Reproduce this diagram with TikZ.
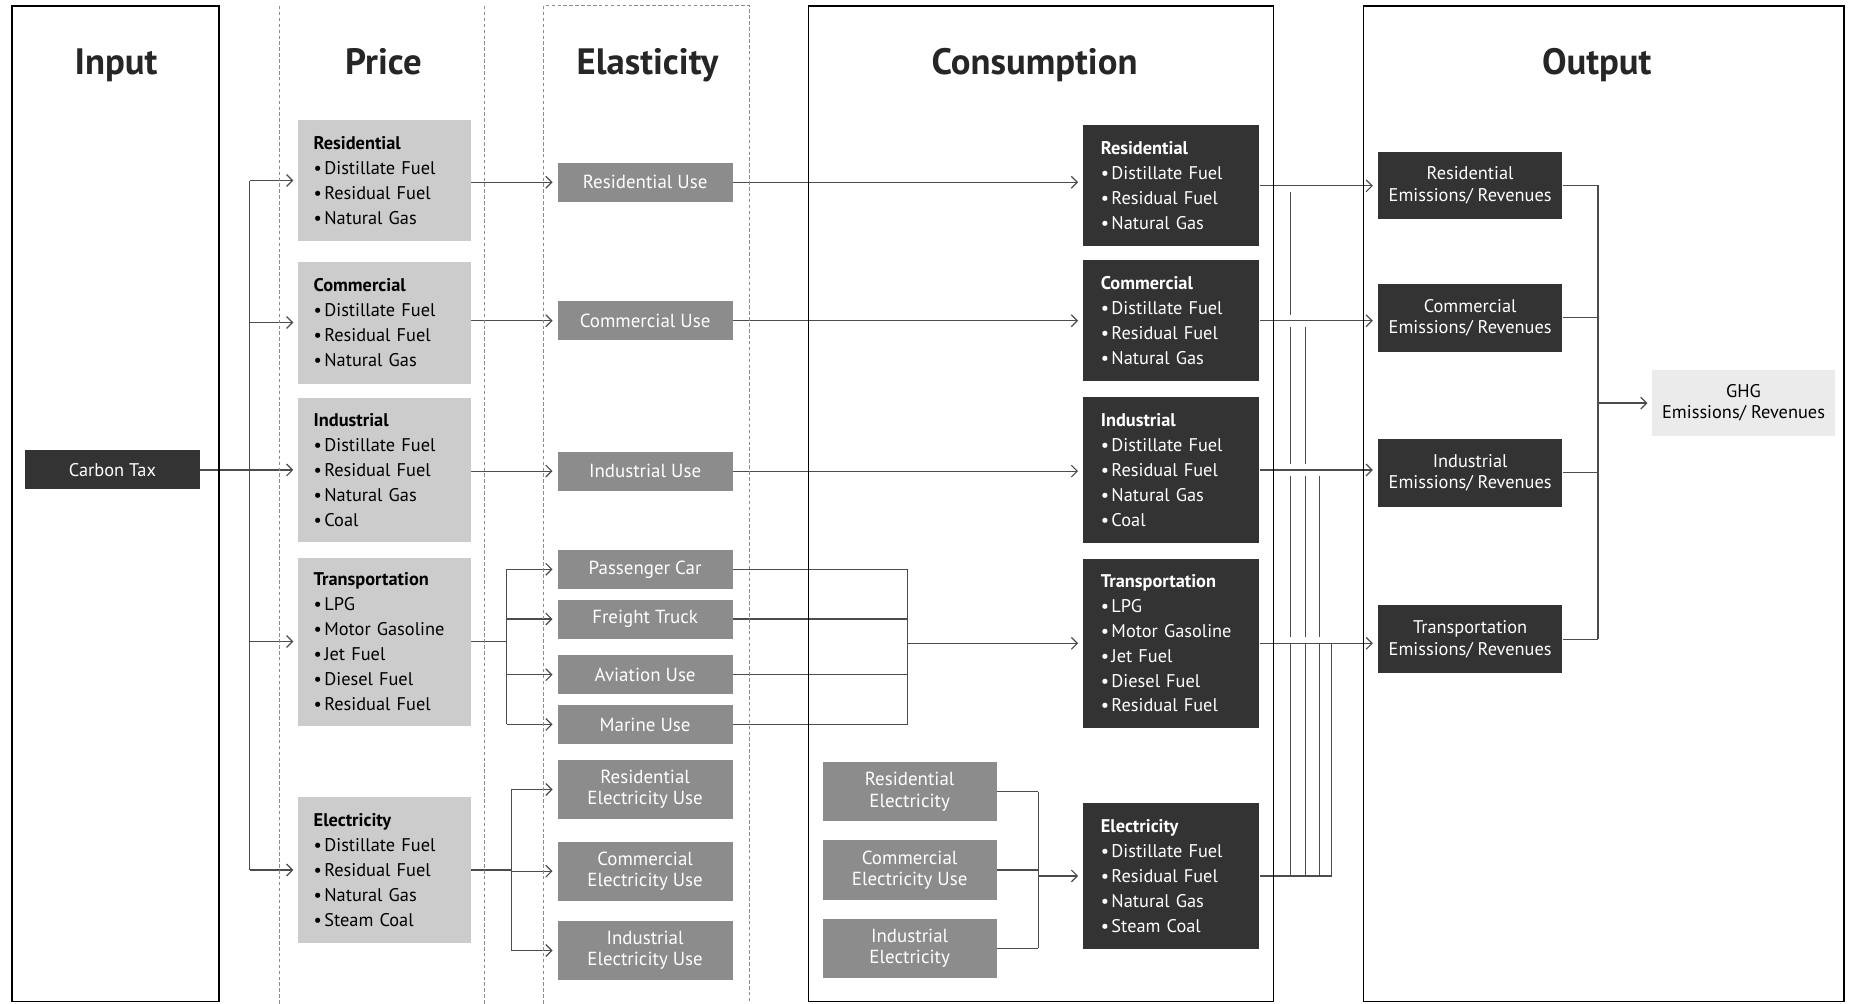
\documentclass[tikz,border=0pt]{standalone}
\usepackage{fontspec}
\setmainfont{PT Sans}
\usetikzlibrary{arrows.meta}

\begin{document}
\begin{tikzpicture}[x=1pt,y=-1pt]
	\tikzstyle{frame}=[draw=black,line width=1.4pt]
	\tikzstyle{dframe}=[draw=black!45,line width=0.8pt,dash pattern=on 3pt off 2pt]
	\tikzstyle{title}=[anchor=base,font=\fontsize{31}{36}\selectfont\bfseries,text=black!85]
	\tikzstyle{price}=[fill=black!20,text width=120pt,align=left,inner xsep=13pt,inner ysep=0pt,font=\fontsize{15.5}{21}\selectfont]
	\tikzstyle{elas}=[fill=black!45,text=white,align=center,minimum width=148pt,minimum height=33pt,inner sep=0pt,font=\fontsize{16}{18}\selectfont]
	\tikzstyle{cons}=[fill=black!80,text=white,text width=119pt,align=left,inner xsep=15pt,inner ysep=0pt,font=\fontsize{15.5}{21}\selectfont]
	\tikzstyle{outp}=[fill=black!80,text=white,align=center,minimum width=156pt,minimum height=57pt,inner sep=0pt,font=\fontsize{15.5}{18}\selectfont]
	\tikzstyle{line}=[draw=black!70,line width=1pt]
	\tikzstyle{arr}=[line,-{Straight Barb[length=5pt,width=10pt]},shorten >=4pt]
	\tikzstyle{gap}=[preaction={draw=white,-,line width=10pt}]
	\useasboundingbox[fill=white] (0,0) rectangle (1568,848);
	% column titles
	\node[title] (t_in) at (98,63) {Input};
	\node[title] (t_pr) at (324,63) {Price};
	\node[title] (t_el) at (547,63) {Elasticity};
	\node[title] (t_co) at (874,63) {Consumption};
	\node[title] (t_ou) at (1349,63) {Output};
	% input
	\node[outp,minimum width=148pt,minimum height=33pt] (tax) at (95,397) {Carbon Tax};
	% price
	\node[price,minimum height=103pt] (p_res) at (325,152.5) {\textbf{Residential}\\\textbullet\kern2pt Distillate Fuel\\\textbullet\kern2pt Residual Fuel\\\textbullet\kern2pt Natural Gas};
	\node[price,minimum height=103pt] (p_com) at (325,272.5) {\textbf{Commercial}\\\textbullet\kern2pt Distillate Fuel\\\textbullet\kern2pt Residual Fuel\\\textbullet\kern2pt Natural Gas};
	\node[price,minimum height=122pt] (p_ind) at (325,397) {\textbf{Industrial}\\\textbullet\kern2pt Distillate Fuel\\\textbullet\kern2pt Residual Fuel\\\textbullet\kern2pt Natural Gas\\\textbullet\kern2pt Coal};
	\node[price,minimum height=142pt] (p_tra) at (325,542) {\textbf{Transportation}\\\textbullet\kern2pt LPG\\\textbullet\kern2pt Motor Gasoline\\\textbullet\kern2pt Jet Fuel\\\textbullet\kern2pt Diesel Fuel\\\textbullet\kern2pt Residual Fuel};
	\node[price,minimum height=124pt] (p_ele) at (325,735) {\textbf{Electricity}\\\textbullet\kern2pt Distillate Fuel\\\textbullet\kern2pt Residual Fuel\\\textbullet\kern2pt Natural Gas\\\textbullet\kern2pt Steam Coal};
	% elasticity
	\node[elas] (e_res) at (545,154) {Residential Use};
	\node[elas] (e_com) at (545,271) {Commercial Use};
	\node[elas] (e_ind) at (545,398) {Industrial Use};
	\node[elas] (e_car) at (545,481) {Passenger Car};
	\node[elas] (e_fre) at (545,523) {Freight Truck};
	\node[elas] (e_avi) at (545,570) {Aviation Use};
	\node[elas] (e_mar) at (545,612) {Marine Use};
	\node[elas,minimum height=50pt] (e_rel) at (545,667) {Residential\\Electricity Use};
	\node[elas,minimum height=50pt] (e_cel) at (545,736) {Commercial\\Electricity Use};
	\node[elas,minimum height=50pt] (e_iel) at (545,803) {Industrial\\Electricity Use};
	% consumption
	\node[elas,minimum width=147pt,minimum height=50pt] (k_res) at (768.5,669) {Residential\\Electricity};
	\node[elas,minimum width=147pt,minimum height=50pt] (k_com) at (768.5,735) {Commercial\\Electricity Use};
	\node[elas,minimum width=147pt,minimum height=50pt] (k_ind) at (768.5,801) {Industrial\\Electricity};
	\node[cons,minimum height=102pt] (c_res) at (989.5,157) {\textbf{Residential}\\\textbullet\kern2pt Distillate Fuel\\\textbullet\kern2pt Residual Fuel\\\textbullet\kern2pt Natural Gas};
	\node[cons,minimum height=102pt] (c_com) at (989.5,271) {\textbf{Commercial}\\\textbullet\kern2pt Distillate Fuel\\\textbullet\kern2pt Residual Fuel\\\textbullet\kern2pt Natural Gas};
	\node[cons,minimum height=124pt] (c_ind) at (989.5,397) {\textbf{Industrial}\\\textbullet\kern2pt Distillate Fuel\\\textbullet\kern2pt Residual Fuel\\\textbullet\kern2pt Natural Gas\\\textbullet\kern2pt Coal};
	\node[cons,minimum height=143pt] (c_tra) at (989.5,543.5) {\textbf{Transportation}\\\textbullet\kern2pt LPG\\\textbullet\kern2pt Motor Gasoline\\\textbullet\kern2pt Jet Fuel\\\textbullet\kern2pt Diesel Fuel\\\textbullet\kern2pt Residual Fuel};
	\node[cons,minimum height=124pt] (c_ele) at (989.5,740) {\textbf{Electricity}\\\textbullet\kern2pt Distillate Fuel\\\textbullet\kern2pt Residual Fuel\\\textbullet\kern2pt Natural Gas\\\textbullet\kern2pt Steam Coal};
	% output
	\node[outp] (o_res) at (1242,156.5) {Residential\\Emissions/ Revenues};
	\node[outp] (o_com) at (1242,268.5) {Commercial\\Emissions/ Revenues};
	\node[outp] (o_ind) at (1242,399.5) {Industrial\\Emissions/ Revenues};
	\node[outp] (o_tra) at (1242,540) {Transportation\\Emissions/ Revenues};
	\node[outp,fill=black!8,text=black,minimum width=154pt,minimum height=55pt] (ghg) at (1473,340.5) {GHG\\Emissions/ Revenues};

	% carbon tax to prices
	\coordinate (tax_bus) at (211,397);
	\draw[line] (tax.east) -- (tax_bus);
	\draw[line] (tax_bus |- p_res) -- (tax_bus |- p_ele);
	\foreach \n in {p_res,p_com,p_ind,p_tra,p_ele}
		\draw[arr] (tax_bus |- \n) -- (\n.west);
	% prices to elasticities
	\draw[arr] (p_res.east |- e_res) -- (e_res.west);
	\draw[arr] (p_com.east |- e_com) -- (e_com.west);
	\draw[arr] (p_ind.east |- e_ind) -- (e_ind.west);
	\coordinate (tra_bus) at (428,542);
	\draw[line] (p_tra.east) -- (tra_bus);
	\draw[line] (tra_bus |- e_car) -- (tra_bus |- e_mar);
	\foreach \n in {e_car,e_fre,e_avi,e_mar}
		\draw[arr] (tra_bus |- \n) -- (\n.west);
	\coordinate (ele_bus) at (432,735);
	\draw[line] (p_ele.east) -- (ele_bus);
	\draw[line] (ele_bus |- e_rel) -- (ele_bus |- e_iel);
	\foreach \n in {e_rel,e_cel,e_iel}
		\draw[arr] (ele_bus |- \n) -- (\n.west);
	% elasticities to consumption
	\draw[arr] (e_res.east) -- (c_res.west |- e_res);
	\draw[arr] (e_com.east) -- (c_com.west |- e_com);
	\draw[arr] (e_ind.east) -- (c_ind.west |- e_ind);
	\coordinate (veh_bus) at (767,543.5);
	\foreach \n in {e_car,e_fre,e_avi,e_mar}
		\draw[line] (\n.east) -- (\n.east -| veh_bus);
	\draw[line] (veh_bus |- e_car) -- (veh_bus |- e_mar);
	\draw[arr] (veh_bus) -- (c_tra.west);
	\coordinate (kel_bus) at (877,740);
	\foreach \n in {k_res,k_com,k_ind}
		\draw[line] (\n.east) -- (\n.east -| kel_bus);
	\draw[line] (kel_bus |- k_res) -- (kel_bus |- k_ind);
	\draw[arr] (kel_bus) -- (c_ele.west);
	% consumption to output
	\coordinate (eb_a) at (1090,740);
	\coordinate (eb_b) at (1103,740);
	\coordinate (eb_c) at (1115,740);
	\coordinate (eb_d) at (1125,740);
	\draw[line] (eb_a) -- (eb_a |- c_res.east);
	\draw[line] (eb_b) -- (eb_b |- c_com.east);
	\draw[line] (eb_c) -- (eb_c |- c_ind.east);
	\draw[arr,gap] (c_res.east) -- (c_res.east -| o_res.west);
	\draw[arr,gap] (c_com.east) -- (c_com.east -| o_com.west);
	\draw[arr,gap] (c_ind.east) -- (c_ind.east -| o_ind.west);
	\draw[arr,gap] (c_tra.east) -- (c_tra.east -| o_tra.west);
	\draw[line] (c_ele.east) -- (eb_d) -- (eb_d |- c_tra.east);
	\draw[line] (eb_a |- c_tra.east) -- (eb_a) (eb_b |- c_tra.east) -- (eb_b) (eb_c |- c_tra.east) -- (eb_c);
	% output to GHG
	\coordinate (o_bus) at (1350,340.5);
	\foreach \n in {o_res,o_com,o_ind,o_tra}
		\draw[line] (\n.east) -- (\n.east -| o_bus);
	\draw[line] (o_bus |- o_res.east) -- (o_bus |- o_tra.east);
	\draw[arr] (o_bus) -- (ghg.west);

	% column frames
	\draw[frame] (10,5) rectangle (185,846);
	\draw[dframe] (236,5) -- (236,848) (409,5) -- (409,848);
	\draw[dframe] (459,848) -- (459,5) -- (633,5) -- (633,848);
	\draw[frame] (683,5) rectangle (1076,846);
	\draw[frame] (1152,5) rectangle (1558,846);
\end{tikzpicture}
\end{document}
